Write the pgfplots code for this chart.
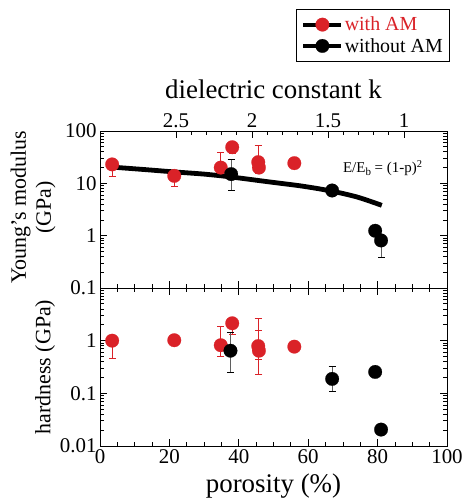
\documentclass[border=0pt]{standalone}
\usepackage{pgfplots}
\pgfplotsset{compat=1.18}
\usepackage{fontspec}
\setmainfont{Liberation Serif}
\definecolor{myred}{RGB}{218,34,40}
\definecolor{errgray}{RGB}{95,95,95}
\newcommand{\tickfont}{\fontsize{21}{24}\selectfont}
\pgfplotsset{
  errred/.style={only marks, mark=none, forget plot,
    error bars/y dir=both, error bars/y explicit,
    error bars/error bar style={myred, line width=1.1bp},
    error bars/error mark options={myred, line width=1.1bp, mark size=3.5bp, rotate=90}},
  errblk/.style={only marks, mark=none, forget plot,
    error bars/y dir=both, error bars/y explicit,
    error bars/error bar style={errgray, line width=1.1bp},
    error bars/error mark options={black, line width=1.1bp, mark size=3.5bp, rotate=90}},
  redpts/.style={only marks, mark=*, mark size=6.8bp, forget plot,
    mark options={fill=myred, draw=myred, line width=0.2bp}},
  blkpts/.style={only marks, mark=*, mark size=6.8bp, forget plot,
    mark options={fill=black, draw=black, line width=0.2bp}},
}
\begin{document}
\begin{tikzpicture}
\useasboundingbox (0bp,0bp) rectangle (464bp,-502bp);
% ---------------- top panel: Young's modulus
\begin{axis}[
  at={(100bp,-131bp)}, anchor=north west,
  scale only axis, width=347bp, height=157bp,
  xmin=0, xmax=100,
  ymode=log,
  tick align=inside,
  major tick length=7bp, minor tick length=4bp,
  every tick/.style={black, line width=0.8bp},
  axis line style={line width=0.9bp},
  ticklabel style={font=\tickfont},
  /pgf/number format/assume math mode=true,
  xtick={0,20,40,60,80,100},
  minor x tick num=3,
  yticklabel pos=left,
  clip=false,
  ymin=0.1, ymax=100,
  ytick={0.1,1,10,100}, yticklabels={0.1,1,10,100},
  minor ytick={0.2,0.3,0.4,0.5,0.6,0.7,0.8,0.9,2,3,4,5,6,7,8,9,20,30,40,50,60,70,80,90},
  xtick pos=lower, xticklabels={},
  ylabel={Young's modulus\\(GPa)},
  ylabel style={font=\fontsize{22}{25}\selectfont, align=center,
    at={(axis description cs:-0.193,0.515)}, anchor=center},
  legend style={at={(axis description cs:0.565,1.777)}, anchor=north west,
    draw=black, line width=0.9bp, fill=white,
    font=\fontsize{20}{22}\selectfont,
    inner xsep=5bp, inner ysep=6bp, row sep=3bp,
    nodes={inner sep=1.5bp}},
  legend cell align=left,
  legend image code/.code={\draw[mark repeat=2,mark phase=2,#1] plot coordinates {(0bp,0bp) (19bp,0bp) (38bp,0bp)};},
]
\addlegendimage{black, line width=3.8bp, mark=*, mark size=6.8bp, mark options={fill=myred, draw=myred, line width=0.2bp}}
\addlegendentry{\textcolor{myred}{with AM}}
\addlegendimage{black, line width=3.8bp, mark=*, mark size=6.8bp, mark options={fill=black, draw=black, line width=0.2bp}}
\addlegendentry{without AM}
% model curve
\addplot[black, line width=4.8bp, smooth, forget plot] coordinates {
  (4,20.3) (13,18.3) (21,16.6) (30,15.0) (37.5,13.3) (49,10.6) (58,8.9) (66.3,7.2) (74,5.5) (81.2,3.8)};
% error bars
\addplot[errred] coordinates {
  (3.5,23) += (0,0) -= (0,9.5)
  (21.4,13.9) += (0,0) -= (0,5.2)
  (34.8,20) += (0,18.6) -= (0,4)
  (38.1,49) += (0,4) -= (0,11.4)
  (45.6,25.4) += (0,28) -= (0,3)
  (45.8,20) += (0,2) -= (0,4.4)
};
\addplot[errblk] coordinates {
  (37.8,15) += (0,13) -= (0,7.8)
  (66.9,7.3) += (0,1.2) -= (0,1.0)
  (81.0,0.81) += (0,0) -= (0,0.42)
};
\addplot[redpts] coordinates {
  (3.5,23) (21.4,13.9) (34.8,20) (38.1,49) (45.6,25.4) (45.8,20) (56.0,24.3)};
\addplot[blkpts] coordinates {
  (37.8,15) (66.9,7.3) (79.3,1.24) (81.0,0.81)};
\node[font=\fontsize{15}{17}\selectfont] at (axis cs:81.5,19.5) {E/E\raisebox{-0.45ex}{\fontsize{11}{12}\selectfont b} = (1-p)\textsuperscript{2}};
\end{axis}
% ---------------- top k axis
\begin{axis}[
  at={(100bp,-131bp)}, anchor=north west,
  scale only axis, width=347bp, height=157bp,
  xmin=0.7171, xmax=3, x dir=reverse,
  ymin=0, ymax=1,
  axis x line*=top, hide y axis,
  tick align=inside,
  major tick length=7bp, minor tick length=4bp,
  every tick/.style={black, line width=0.8bp},
  axis line style={line width=0.9bp},
  xtick={1,1.5,2,2.5}, xticklabels={1,1.5,2,2.5},
  minor x tick num=4,
  ticklabel style={font=\tickfont},
  /pgf/number format/assume math mode=true,
  xlabel={dielectric constant k},
  xlabel style={font=\fontsize{27}{30}\selectfont, yshift=8bp},
]
\end{axis}
% ---------------- bottom panel: hardness
\begin{axis}[
  at={(100bp,-288bp)}, anchor=north west,
  scale only axis, width=347bp, height=158bp,
  xmin=0, xmax=100,
  ymode=log,
  tick align=inside,
  major tick length=7bp, minor tick length=4bp,
  every tick/.style={black, line width=0.8bp},
  axis line style={line width=0.9bp},
  ticklabel style={font=\tickfont},
  /pgf/number format/assume math mode=true,
  xtick={0,20,40,60,80,100},
  minor x tick num=3,
  yticklabel pos=left,
  clip=false,
  ymin=0.01, ymax=10,
  ytick={0.01,0.1,1,10}, yticklabels={0.01,0.1,1,{}},
  minor ytick={0.02,0.03,0.04,0.05,0.06,0.07,0.08,0.09,0.2,0.3,0.4,0.5,0.6,0.7,0.8,0.9,2,3,4,5,6,7,8,9},
  xticklabels={0,20,40,60,80,100},
  xlabel={porosity (\%)},
  xlabel style={font=\fontsize{27}{30}\selectfont, yshift=-3bp},
  ylabel={hardness (GPa)},
  ylabel style={font=\fontsize{22}{25}\selectfont,
    at={(axis description cs:-0.158,0.5)}, anchor=center},
]
\addplot[errred] coordinates {
  (3.5,1.0) += (0,0) -= (0,0.545)
  (34.8,0.82) += (0,1.03) -= (0,0.32)
  (38.1,2.14) += (0,0) -= (0,0.82)
  (45.6,0.79) += (0,1.87) -= (0,0.35)
  (45.8,0.645) += (0,0.905) -= (0,0.415)
};
\addplot[errblk] coordinates {
  (37.6,0.645) += (0,0.775) -= (0,0.398)
  (66.9,0.188) += (0,0.139) -= (0,0.078)
};
\addplot[redpts] coordinates {
  (3.5,1.0) (21.4,1.02) (34.8,0.82) (38.1,2.14) (45.6,0.79) (45.8,0.645) (56.0,0.77)};
\addplot[blkpts] coordinates {
  (37.6,0.645) (66.9,0.188) (79.3,0.255) (81.0,0.0205)};
\end{axis}
\end{tikzpicture}
\end{document}
